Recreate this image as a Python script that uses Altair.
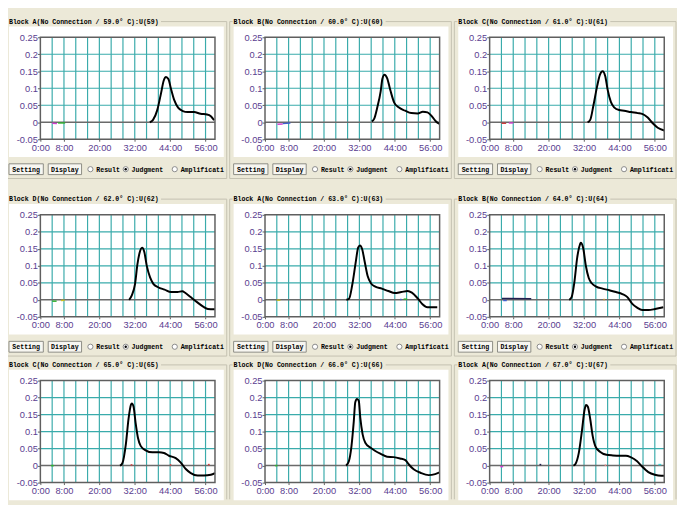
import altair as alt
import pandas as pd

# ---------------- data ----------------
panel_titles = [
    "Block A(No Connection / 59.0° C):U(59)",
    "Block B(No Connection / 60.0° C):U(60)",
    "Block C(No Connection / 61.0° C):U(61)",
    "Block D(No Connection / 62.0° C):U(62)",
    "Block A(No Connection / 63.0° C):U(63)",
    "Block B(No Connection / 64.0° C):U(64)",
    "Block C(No Connection / 65.0° C):U(65)",
    "Block D(No Connection / 66.0° C):U(66)",
    "Block A(No Connection / 67.0° C):U(67)",
]

curve_t = [
    [37.1, 38.2, 39.6, 40.9, 41.8, 42.6, 43.4, 44.3, 45.4, 46.7, 48.3, 49.9, 52.1, 54.3, 56.5, 57.8, 58.9],
    [36.2, 37.0, 38.1, 39.2, 39.8, 40.5, 41.4, 42.5, 43.8, 45.3, 47.5, 49.6, 51.8, 53.5, 55.1, 56.8, 57.9, 59.2],
    [33.2, 34.1, 35.2, 36.4, 37.4, 38.3, 39.2, 40.0, 41.1, 42.2, 43.9, 45.6, 47.9, 50.2, 51.9, 53.6, 55.3, 57.0, 59.2],
    [30.1, 31.0, 32.1, 32.9, 33.6, 34.5, 35.2, 36.1, 37.2, 38.3, 39.9, 42.1, 44.3, 46.5, 48.1, 49.2, 50.8, 53.0, 55.2, 56.8, 59.2],
    [27.6, 28.5, 29.6, 30.7, 31.6, 32.2, 32.9, 33.8, 34.8, 35.9, 37.4, 39.6, 41.8, 44.0, 46.2, 48.4, 49.8, 51.8, 53.4, 55.1, 58.4],
    [27.0, 27.8, 28.7, 29.7, 30.6, 30.9, 31.7, 32.6, 33.6, 34.7, 36.1, 38.3, 40.6, 42.8, 45.0, 46.7, 48.3, 50.0, 51.7, 53.9, 56.1, 58.9],
    [27.0, 27.8, 29.0, 29.9, 30.7, 31.0, 31.6, 32.3, 33.1, 34.0, 35.7, 38.0, 40.2, 41.9, 43.6, 45.9, 47.6, 49.3, 51.0, 53.3, 55.5, 57.8, 59.2],
    [27.5, 28.4, 29.3, 30.1, 30.6, 31.2, 31.8, 32.3, 33.1, 34.0, 35.7, 37.4, 39.1, 41.4, 43.6, 45.8, 47.6, 48.7, 50.4, 52.7, 55.5, 57.7, 59.2],
    [28.4, 29.1, 30.2, 31.3, 32.2, 32.7, 33.3, 34.1, 34.9, 35.9, 37.4, 39.6, 41.8, 44.0, 46.2, 47.8, 50.0, 51.6, 53.8, 56.0, 58.2, 59.2],
]
curve_v = [
    [0.0, 0.007, 0.035, 0.085, 0.122, 0.133, 0.127, 0.098, 0.065, 0.043, 0.033, 0.030, 0.030, 0.025, 0.023, 0.018, 0.006],
    [0.003, 0.01, 0.045, 0.09, 0.128, 0.14, 0.13, 0.094, 0.058, 0.044, 0.034, 0.027, 0.026, 0.031, 0.029, 0.015, 0.003, -0.005],
    [0.0, 0.007, 0.05, 0.104, 0.14, 0.15, 0.135, 0.096, 0.06, 0.044, 0.036, 0.034, 0.03, 0.027, 0.024, 0.014, -0.003, -0.016, -0.024],
    [0.0, 0.013, 0.047, 0.104, 0.137, 0.153, 0.142, 0.099, 0.066, 0.047, 0.037, 0.030, 0.023, 0.023, 0.025, 0.020, 0.009, -0.006, -0.020, -0.027, -0.028],
    [0.0, 0.003, 0.045, 0.107, 0.154, 0.16, 0.15, 0.112, 0.07, 0.049, 0.039, 0.033, 0.026, 0.020, 0.023, 0.026, 0.021, 0.004, -0.013, -0.022, -0.022],
    [0.0, 0.008, 0.05, 0.125, 0.162, 0.168, 0.153, 0.101, 0.064, 0.048, 0.039, 0.033, 0.028, 0.023, 0.017, 0.008, -0.011, -0.023, -0.030, -0.030, -0.027, -0.022],
    [0.0, 0.007, 0.064, 0.138, 0.179, 0.183, 0.173, 0.125, 0.081, 0.058, 0.045, 0.039, 0.039, 0.037, 0.029, 0.022, 0.009, -0.010, -0.022, -0.029, -0.029, -0.027, -0.022],
    [0.0, 0.012, 0.056, 0.13, 0.186, 0.196, 0.19, 0.141, 0.092, 0.067, 0.053, 0.043, 0.035, 0.026, 0.025, 0.021, 0.016, 0.004, -0.011, -0.021, -0.028, -0.025, -0.020],
    [0.0, 0.005, 0.036, 0.103, 0.165, 0.178, 0.173, 0.137, 0.089, 0.056, 0.041, 0.032, 0.030, 0.029, 0.029, 0.025, 0.013, -0.002, -0.019, -0.027, -0.030, -0.030],
]

# short traces of the other channels (panel, segment, colour, time, value)
trace_panel = [0, 0, 0, 0, 1, 1, 1, 1, 2, 2, 2, 2, 3, 3, 3, 3, 4, 4, 4, 4, 4, 4,
               5, 5, 5, 5, 5, 5, 6, 6, 6, 6, 6, 6, 6, 6, 7, 7, 8, 8, 8, 8, 8, 8, 8, 8]
trace_seg = [0, 0, 1, 1, 0, 0, 1, 1, 0, 0, 1, 1, 0, 0, 1, 1, 0, 0, 1, 1, 2, 2,
             0, 0, 1, 1, 2, 2, 0, 0, 1, 1, 2, 2, 3, 3, 0, 0, 0, 0, 1, 1, 2, 2, 3, 3]
trace_color = ["#d040d0", "#d040d0", "#30b030", "#30b030",
               "#d040d0", "#d040d0", "#4060d0", "#4060d0",
               "#d04040", "#d04040", "#d040d0", "#d040d0",
               "#30b030", "#30b030", "#c8c020", "#c8c020",
               "#c8c020", "#c8c020", "#4060d0", "#4060d0", "#30b030", "#30b030",
               "#202050", "#202050", "#4060d0", "#4060d0", "#e0a020", "#e0a020",
               "#30b030", "#30b030", "#d04040", "#d04040", "#d04040", "#d04040", "#d04040", "#d04040",
               "#30b030", "#30b030",
               "#d040d0", "#d040d0", "#202050", "#202050", "#e08080", "#e08080", "#40d0d0", "#40d0d0"]
trace_t = [4.0, 5.6, 6.0, 8.4, 4.2, 6.0, 6.0, 8.6, 4.0, 5.6, 6.5, 8.0, 4.0, 5.5, 7.0, 8.2,
           4.0, 5.2, 45.8, 46.3, 47.0, 48.2, 4.2, 14.1, 4.6, 5.8, 38.6, 39.0,
           3.6, 4.6, 30.6, 31.2, 43.9, 44.4, 56.8, 57.4, 3.4, 4.2,
           3.6, 4.6, 16.9, 17.5, 39.0, 39.5, 57.2, 58.2]
trace_v = [-0.003, -0.004, -0.002, -0.002, -0.006, -0.005, -0.004, -0.002, -0.003, -0.003, -0.002, -0.002,
           -0.004, -0.004, -0.002, -0.001, -0.001, -0.001, 0.001, 0.001, 0.002, 0.002,
           0.004, 0.003, -0.002, -0.002, 0.001, 0.001, 0.0, 0.0, 0.002, 0.002, 0.002, 0.002, 0.003, 0.003,
           0.0, 0.0, -0.003, -0.003, 0.003, 0.003, 0.001, 0.001, 0.003, 0.003]

x_tick_values = [0, 8, 20, 32, 44, 56]
y_tick_values = [-0.05, 0, 0.05, 0.1, 0.15, 0.2, 0.25]
x_grid = [4, 8, 12, 16, 20, 24, 28, 32, 36, 40, 44, 48, 52, 56]
y_grid = [0.05, 0.1, 0.15, 0.2]
x_domain = [0, 59.2]
y_domain = [-0.05, 0.25]

# ---------------- style ----------------
BG = "#ECE9D8"
GRID = "#3aabab"
FRAME = "#5f5f5f"
LABEL = "#5a3d90"
UIFONT = "Liberation Mono"
W, H = 178, 104
ROW_BOTTOM = [55, 43, 17]

one = pd.DataFrame({"k": [0]})


def X(field):
    return alt.X(field, type="quantitative",
                 scale=alt.Scale(domain=x_domain, nice=False, zero=False),
                 axis=alt.Axis(values=x_tick_values, labelExpr="datum.value + ':00'",
                               title=None, grid=False, domain=False, ticks=True,
                               tickSize=2, tickColor=FRAME, labelPadding=1,
                               labelColor=LABEL, labelFont="Liberation Sans",
                               labelFontSize=9.5, zindex=1, labelFlush=False,
                               labelOverlap=False))


def Y(field):
    return alt.Y(field, type="quantitative",
                 scale=alt.Scale(domain=y_domain, nice=False, zero=False),
                 axis=alt.Axis(values=y_tick_values, labelExpr="'' + datum.value",
                               title=None, grid=False, domain=False, ticks=True,
                               tickSize=3, tickColor=FRAME, labelPadding=0,
                               labelColor=LABEL, labelFont="Liberation Sans",
                               labelFontSize=9.5, zindex=1, labelFlush=False,
                               labelOverlap=False))


def vrect(x1, x2, y1, y2, **kw):
    return alt.Chart(one).mark_rect(**kw).encode(
        x=alt.value(x1), x2=alt.value(x2), y=alt.value(y1), y2=alt.value(y2))


def vrule(x1, x2, y1, y2, **kw):
    return alt.Chart(one).mark_rule(**kw).encode(
        x=alt.value(x1), x2=alt.value(x2), y=alt.value(y1), y2=alt.value(y2))


def vtext(x, y, s, **kw):
    return alt.Chart(one).mark_text(**kw).encode(
        x=alt.value(x), y=alt.value(y), text=alt.value(s))


def panel(i, row):
    B = ROW_BOTTOM[row]
    layers = []
    # cell background (defines the cell bounds)
    layers.append(vrect(-36, W + 12, -22, H + B, fill=BG))
    # group box
    title_end = -32 + 4.0 * len(panel_titles[i]) + 3
    gb_bottom = H + 40 if row < 2 else H + B
    layers.append(vrule(-36, -33, -16, -16, color="#c4c1b0", strokeWidth=1))
    layers.append(vrule(title_end, W + 12, -16, -16, color="#c4c1b0", strokeWidth=1))
    layers.append(vrule(-36, -36, -16, gb_bottom, color="#c4c1b0", strokeWidth=1))
    layers.append(vrule(W + 12, W + 12, -16, gb_bottom, color="#c4c1b0", strokeWidth=1))
    if row < 2:
        layers.append(vrule(-36, W + 12, gb_bottom, gb_bottom, color="#c4c1b0", strokeWidth=1))
    # white chart area
    layers.append(vrect(-32, W + 9, -11, H + 18, fill="white"))
    # grid lines
    gx = pd.DataFrame({"gx": x_grid})
    gy = pd.DataFrame({"gy": y_grid})
    layers.append(alt.Chart(gx).mark_rule(color=GRID, strokeWidth=1.2).encode(
        x=X("gx"), y=alt.value(0), y2=alt.value(H)))
    layers.append(alt.Chart(gy).mark_rule(color=GRID, strokeWidth=1.2).encode(
        y=Y("gy"), x=alt.value(0), x2=alt.value(W)))
    # zero line
    layers.append(alt.Chart(pd.DataFrame({"z": [0.0]})).mark_rule(
        color="#6a6a6a", strokeWidth=1.5).encode(y=Y("z"), x=alt.value(0), x2=alt.value(W)))
    # other channel traces
    tr = pd.DataFrame({"p": trace_panel, "s": trace_seg, "c": trace_color,
                       "t": trace_t, "v": trace_v})
    tr = tr[tr.p == i]
    layers.append(alt.Chart(tr).mark_line(strokeWidth=1.5).encode(
        x=X("t"), y=Y("v"), detail="s:N", color=alt.Color("c:N", scale=None)))
    # main curve
    df = pd.DataFrame({"t": curve_t[i], "v": curve_v[i]})
    layers.append(alt.Chart(df).mark_line(color="black", strokeWidth=2,
                                          interpolate="monotone").encode(
        x=X("t"), y=Y("v")))
    # plot frame
    layers.append(vrect(0, W, 0, H, fill="white", fillOpacity=0, stroke=FRAME,
                        strokeWidth=1.5))
    # panel title
    layers.append(vtext(-32, -16, panel_titles[i], align="left", baseline="middle",
                        font=UIFONT, fontSize=6.7, fontWeight="bold", color="black"))
    # controls under the chart
    if row < 2:
        by1, by2 = H + 25, H + 36
        bym = (by1 + by2) / 2
        layers.append(vrect(-32, 3, by1, by2, fill="#f7f6f1", stroke="#8c8c84", strokeWidth=1))
        layers.append(vrect(8, 42, by1, by2, fill="#f7f6f1", stroke="#8c8c84", strokeWidth=1))
        layers.append(vtext(-14.5, bym + 0.5, "Setting", align="center", baseline="middle",
                            font=UIFONT, fontSize=6.7, fontWeight="bold", color="black"))
        layers.append(vtext(25, bym + 0.5, "Display", align="center", baseline="middle",
                            font=UIFONT, fontSize=6.7, fontWeight="bold", color="black"))
        for cx, lab in [(51, "Result"), (87, "Judgment"), (137, "Amplificati")]:
            layers.append(alt.Chart(one).mark_point(shape="circle", size=28, filled=True,
                                                    fill="white", stroke="#8a8a8a",
                                                    strokeWidth=1, opacity=1).encode(
                x=alt.value(cx), y=alt.value(bym)))
            layers.append(vtext(cx + 6, bym + 0.5, lab, align="left", baseline="middle",
                                font=UIFONT, fontSize=6.7, fontWeight="bold", color="black"))
        layers.append(alt.Chart(one).mark_point(shape="circle", size=6, filled=True,
                                                color="black", opacity=1).encode(
            x=alt.value(87), y=alt.value(bym)))
    return alt.layer(*layers).properties(width=W, height=H)


rows = [alt.hconcat(*[panel(3 * r + c, r) for c in range(3)], spacing=1) for r in range(3)]
chart = alt.vconcat(*rows, spacing=0).properties(
    padding={"left": -4, "top": 3, "right": 0, "bottom": 0},
    background=BG,
).configure_view(stroke=None)

chart.save("out.html", embed_options={"renderer": "svg", "actions": False})
